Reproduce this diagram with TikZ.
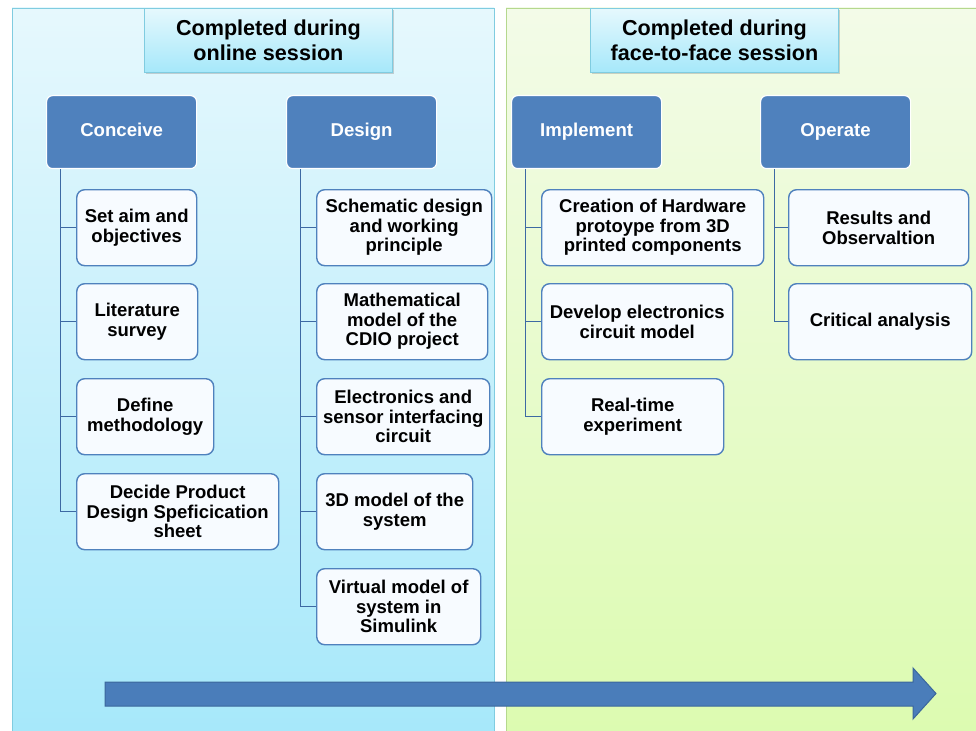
\documentclass[tikz,border=0pt]{standalone}
\usepackage{fontspec}
\setmainfont{Liberation Sans}
\usetikzlibrary{calc,shadows}

\definecolor{phaseblue}{HTML}{4F81BD}
\definecolor{linkblue}{HTML}{3D69A3}
\definecolor{skytop}{HTML}{E6F8FD}
\definecolor{skybot}{HTML}{A6E8FA}
\definecolor{skyedge}{HTML}{80CCE0}
\definecolor{limetop}{HTML}{F3FBE8}
\definecolor{limebot}{HTML}{DCFBB0}
\definecolor{limeedge}{HTML}{B5D88E}
\definecolor{cardfill}{HTML}{F7FBFF}
\definecolor{arrowblue}{HTML}{4A7DBA}
\definecolor{arrowedge}{HTML}{3B679C}

\tikzset{
  session/.style={rectangle, anchor=north west, inner sep=0pt,
    minimum width=248pt, minimum height=64pt, align=center,
    top color=skytop, bottom color=skybot, draw=skyedge, line width=0.8pt,
    drop shadow={shadow xshift=2pt, shadow yshift=-2pt, opacity=0.35},
    font=\bfseries\fontsize{21.6}{24.5}\selectfont},
  phase/.style={rectangle, rounded corners=6pt, anchor=north west, inner sep=0pt,
    minimum width=150pt, minimum height=73pt,
    text height=13pt, text depth=3.5pt,
    fill=phaseblue, draw=white, line width=1.2pt, text=white,
    font=\bfseries\fontsize{18.6}{20}\selectfont},
  card/.style={rectangle, rounded corners=8pt, anchor=north west, inner sep=0pt,
    minimum height=76pt, align=center,
    fill=cardfill, draw=phaseblue, line width=1.4pt,
    font=\bfseries\fontsize{18.5}{19.5}\selectfont},
  link/.style={draw=linkblue, line width=1.5pt}
}

\begin{document}
\begin{tikzpicture}[x=1pt, y=-1pt]
\useasboundingbox (0,0) rectangle (976,730);
\fill[white] (0,0) rectangle (976,730);

% session panels
\shadedraw[top color=skytop, bottom color=skybot, draw=skyedge, line width=0.8pt]
  (12,8) rectangle (494,740);
\shadedraw[top color=limetop, bottom color=limebot, draw=limeedge, line width=0.8pt]
  (506,8) rectangle (990,740);

% session headers
\node[session] (online) at (144,8) {Completed during\\online session};
\node[session] (f2f) at (590,8) {Completed during\\face-to-face session};

% CDIO phases
\node[phase] (conceive)  at (46,95)  {Conceive};
\node[phase] (design)    at (286,95) {Design};
\node[phase] (implement) at (511,95) {Implement};
\node[phase] (operate)   at (760,95) {Operate};

% Conceive tasks
\node[card, minimum width=120pt] (c1) at (76,189) {Set aim and\\objectives};
\node[card, minimum width=121pt] (c2) at (76,283) {Literature\\survey};
\node[card, minimum width=137pt] (c3) at (76,378) {Define\\methodology};
\node[card, minimum width=202pt] (c4) at (76,473) {Decide Product\\Design Speficication\\sheet};

% Design tasks
\node[card, minimum width=175pt] (d1) at (316,189) {Schematic design\\and working\\principle};
\node[card, minimum width=171pt] (d2) at (316,283) {Mathematical\\model of the\\CDIO project};
\node[card, minimum width=173pt] (d3) at (316,378) {Electronics and\\sensor interfacing\\circuit};
\node[card, minimum width=156pt] (d4) at (316,473) {3D model of the\\system};
\node[card, minimum width=164pt] (d5) at (316,568) {Virtual model of\\system in\\Simulink};

% Implement tasks
\node[card, minimum width=222pt] (i1) at (541,189) {Creation of Hardware\\protoype from 3D\\printed components};
\node[card, minimum width=191pt] (i2) at (541,283) {Develop electronics\\circuit model};
\node[card, minimum width=182pt] (i3) at (541,378) {Real-time\\experiment};

% Operate tasks
\node[card, minimum width=180pt] (o1) at (788,189) {Results and\\Observaltion};
\node[card, minimum width=183pt] (o2) at (788,283) {Critical analysis};

% tree connectors
\foreach \k in {c1,c2,c3,c4}
  \draw[link] ($(conceive.south west)+(14.5,0)$) |- (\k.west);
\foreach \k in {d1,d2,d3,d4,d5}
  \draw[link] ($(design.south west)+(14.5,0)$) |- (\k.west);
\foreach \k in {i1,i2,i3}
  \draw[link] ($(implement.south west)+(14.5,0)$) |- (\k.west);
\foreach \k in {o1,o2}
  \draw[link] ($(operate.south west)+(14.5,0)$) |- (\k.west);

% time-line arrow
\draw[fill=arrowblue, draw=arrowedge, line width=1pt, line join=miter]
  (105,682) -- (913,682) -- (913,668) -- (936,693.5) -- (913,719)
  -- (913,706) -- (105,706) -- cycle;
\end{tikzpicture}
\end{document}
